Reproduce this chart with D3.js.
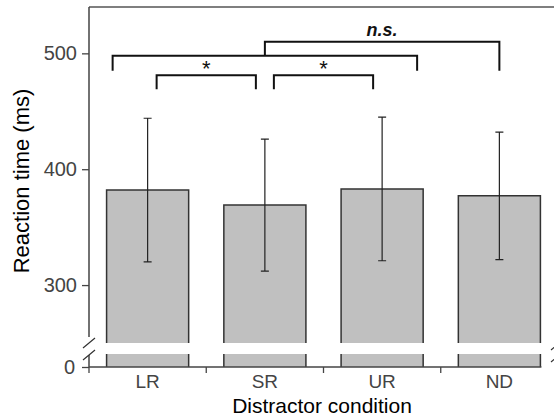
<!DOCTYPE html>
<html>
<head>
<meta charset="utf-8">
<script src="https://cdn.jsdelivr.net/npm/d3@7"></script>
<style>
  body { margin: 0; background: #fff; }
  svg { display: block; font-family: "Liberation Sans", Arial, sans-serif; }
</style>
</head>
<body>
<script>
const categories = ["LR", "SR", "UR", "ND"];
const means = [382, 369, 383, 377];
const sds = [62, 57, 62, 55];
const yTicks = [300, 400, 500];
const brackets = [
  // significance brackets, levels in ms
  {from: "SR", to: "ND", level: 510, legFrom: 498, legTo: 485, label: "n.s."},
  {from: "LR", to: "UR", level: 498, legFrom: 485, legTo: 485, label: "", inset: -35},
  {from: "LR", to: "SR", level: 481, legFrom: 469, legTo: 469, label: "*", inset: 9},
  {from: "SR", to: "UR", level: 481, legFrom: 469, legTo: 469, label: "*", inset: 9}
];

const W = 554, H = 416;
const plotLeft = 89, plotRight = 558, plotTop = 7, base = 367;
const breakTop = 343, breakBot = 354;

const svg = d3.select("body").append("svg")
  .attr("width", W).attr("height", H);

const x = d3.scaleBand().domain(categories).range([plotLeft, plotRight]).padding(0);
const cx = c => x(c) + x.bandwidth() / 2;
const barW = x.bandwidth() * 0.7;

const y = d3.scaleLinear().domain([250, 540]).range([breakTop, plotTop]);
const yLow = d3.scaleLinear().domain([0, 250]).range([base, breakBot]);

const axisColor = "#444";

// top frame line
svg.append("line")
  .attr("x1", plotLeft).attr("x2", W).attr("y1", plotTop).attr("y2", plotTop)
  .attr("stroke", "#555").attr("stroke-width", 1.5);

// bars, upper part + lower stub + error bars
const bars = svg.append("g");
categories.forEach((c, i) => {
  const x0 = cx(c) - barW / 2, x1 = cx(c) + barW / 2;
  bars.append("rect")
    .attr("x", x0).attr("y", y(means[i]))
    .attr("width", barW).attr("height", y(250) - y(means[i]))
    .attr("fill", "#c0c0c0");
  bars.append("path")
    .attr("d", `M${x0},${y(250)}V${y(means[i])}H${x1}V${y(250)}`)
    .attr("fill", "none").attr("stroke", "#333").attr("stroke-width", 1.5);
  bars.append("rect")
    .attr("x", x0).attr("y", yLow(250))
    .attr("width", barW).attr("height", yLow(0) - yLow(250))
    .attr("fill", "#c0c0c0");
  bars.append("path")
    .attr("d", `M${x0},${yLow(0)}V${yLow(250)}M${x1},${yLow(0)}V${yLow(250)}`)
    .attr("fill", "none").attr("stroke", "#333").attr("stroke-width", 1.5);
  const ex = cx(c);
  bars.append("path")
    .attr("d", `M${ex},${y(means[i] - sds[i])}V${y(means[i] + sds[i])}` +
      `M${ex - 4},${y(means[i] + sds[i])}H${ex + 4}` +
      `M${ex - 4},${y(means[i] - sds[i])}H${ex + 4}`)
    .attr("fill", "none").attr("stroke", "#222").attr("stroke-width", 1.2);
});

// y axis (upper)
const gy = svg.append("g")
  .attr("transform", `translate(${plotLeft},0)`)
  .call(d3.axisLeft(y).tickValues(yTicks).tickSize(7).tickPadding(5).tickFormat(d3.format("d")));
gy.select(".domain").remove();
// y axis (lower)
const gyl = svg.append("g")
  .attr("transform", `translate(${plotLeft},0)`)
  .call(d3.axisLeft(yLow).tickValues([0]).tickSize(7).tickPadding(7));
gyl.select(".domain").remove();
[gy, gyl].forEach(g => {
  g.selectAll("line").attr("stroke", axisColor).attr("stroke-width", 1.3);
  g.selectAll("text").attr("fill", "#444").style("font-size", "20px");
});

// y axis line with break
svg.append("path")
  .attr("d", `M${plotLeft},${plotTop}V${breakTop - 6}M${plotLeft},${breakBot + 1}V${base}`)
  .attr("stroke", axisColor).attr("stroke-width", 1.5).attr("fill", "none");
// break marks
const slash = (xm, ym) => `M${xm - 6},${ym + 5}L${xm + 6},${ym - 5}`;
svg.append("path")
  .attr("d", slash(plotLeft, breakTop) + slash(plotLeft, breakBot + 1) +
    slash(plotRight - 1, breakTop + 2) + slash(plotRight - 1, breakBot + 3))
  .attr("stroke", "#333").attr("stroke-width", 1.2).attr("fill", "none");

// x axis
svg.append("line")
  .attr("x1", plotLeft).attr("x2", cx("ND") + barW / 2 + 1)
  .attr("y1", base).attr("y2", base)
  .attr("stroke", axisColor).attr("stroke-width", 1.5);
svg.append("g").selectAll("line")
  .data(categories)
  .join("line")
  .attr("x1", d => x(d)).attr("x2", d => x(d))
  .attr("y1", base).attr("y2", base + 6)
  .attr("stroke", axisColor).attr("stroke-width", 1.3);
svg.append("g").selectAll("text")
  .data(categories)
  .join("text")
  .attr("x", d => cx(d)).attr("y", base + 21)
  .attr("text-anchor", "middle")
  .attr("fill", "#444")
  .style("font-size", "19px")
  .text(d => d);

// axis titles
svg.append("text")
  .attr("x", 322).attr("y", 413)
  .attr("text-anchor", "middle")
  .attr("fill", "#000")
  .style("font-size", "21px")
  .text("Distractor condition");
svg.append("text")
  .attr("transform", "translate(29,181) rotate(-90)")
  .attr("text-anchor", "middle")
  .attr("fill", "#000")
  .style("font-size", "22px")
  .text("Reaction time (ms)");

// significance brackets
const gb = svg.append("g");
brackets.forEach(b => {
  const hasInset = b.inset !== undefined;
  const x0 = hasInset ? cx(b.from) + b.inset : cx(b.from);
  const x1 = hasInset ? cx(b.to) - b.inset : cx(b.to);
  gb.append("path")
    .attr("d", `M${x0},${y(b.legFrom)}V${y(b.level)}H${x1}V${y(b.legTo)}`)
    .attr("fill", "none").attr("stroke", "#111").attr("stroke-width", 2);
  if (b.label) {
    const ns = b.label === "n.s.";
    gb.append("text")
      .attr("x", (x0 + x1) / 2)
      .attr("y", ns ? y(b.level) - 6 : y(b.level) + 1)
      .attr("text-anchor", "middle")
      .attr("fill", "#111")
      .style("font-size", ns ? "18px" : "22px")
      .style("font-style", ns ? "italic" : "normal")
      .style("font-weight", ns ? "bold" : "normal")
      .text(b.label);
  }
});
</script>
</body>
</html>
